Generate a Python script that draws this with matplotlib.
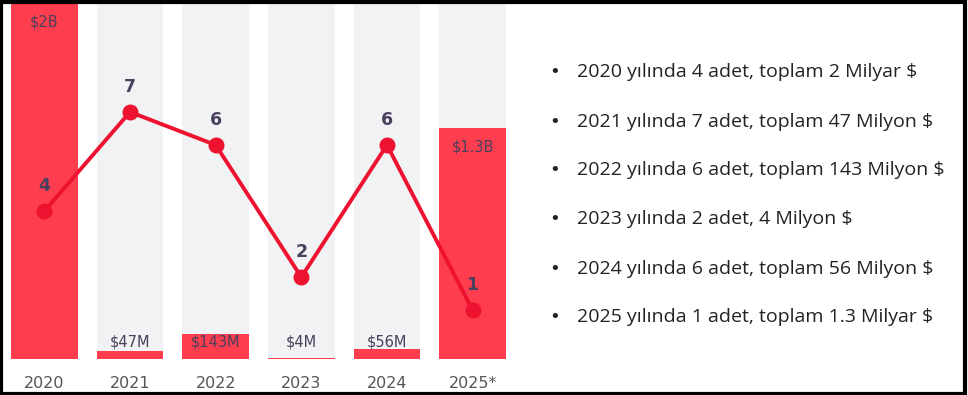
import numpy as np
import matplotlib
matplotlib.use("Agg")
import matplotlib.pyplot as plt
from matplotlib.patches import Rectangle

# data
years = ["2020", "2021", "2022", "2023", "2024", "2025*"]
amount_billion = [2.0, 0.047, 0.143, 0.004, 0.056, 1.3]
amount_labels = ["$2B", "$47M", "$143M", "$4M", "$56M", "$1.3B"]
deal_counts = [4, 7, 6, 2, 6, 1]
notes = [
    "2020 yılında 4 adet, toplam 2 Milyar $",
    "2021 yılında 7 adet, toplam 47 Milyon $",
    "2022 yılında 6 adet, toplam 143 Milyon $",
    "2023 yılında 2 adet, 4 Milyon $",
    "2024 yılında 6 adet, toplam 56 Milyon $",
    "2025 yılında 1 adet, toplam 1.3 Milyar $",
]

W, H = 968, 395
BAR_RED = "#fe3d4f"
TRACK = "#f1f2f4"
LINE_RED = "#ec1230"
LABEL = "#4a3f5c"

fig = plt.figure(figsize=(W / 100, H / 100), dpi=100)
plt.rcParams["font.family"] = ["DejaVu Sans"]

# bar + line chart on the left
ax = fig.add_axes([11 / W, 36 / H, 495 / W, 356 / H])
x = np.arange(len(years))
track_top = max(amount_billion)
ax.bar(x, np.full(len(x), track_top), width=0.78, color=TRACK, zorder=1)
ax.bar(x, amount_billion, width=0.78, color=BAR_RED, zorder=2)
ax.set_xlim(-0.39, len(x) - 1 + 0.39)
ax.set_ylim(0, track_top)

for xi, val, lab in zip(x, amount_billion, amount_labels):
    if val > 0.5:
        ax.annotate(lab, (xi, val), xytext=(0, -14), textcoords="offset points",
                    ha="center", va="center", fontsize=10.5, color=LABEL, zorder=5)
    else:
        ax.annotate(lab, (xi, 0), xytext=(0, 12), textcoords="offset points",
                    ha="center", va="center", fontsize=10.5, color=LABEL, zorder=5)

ax.set_xticks(x)
ax.set_xticklabels(years, fontsize=11.5, color="#555555")
ax.tick_params(axis="x", length=0, pad=12)
ax.set_yticks([])
for s in ax.spines.values():
    s.set_visible(False)

ax2 = ax.twinx()
ax2.plot(x, deal_counts, color=LINE_RED, lw=2.8, marker="o", markersize=10.5,
         zorder=4)
ax2.set_ylim(-0.48, 10.3)
ax2.set_yticks([])
for s in ax2.spines.values():
    s.set_visible(False)
for xi, c in zip(x, deal_counts):
    ax2.annotate(str(c), (xi, c), xytext=(0, 18), textcoords="offset points",
                 ha="center", va="center", fontsize=12.5, fontweight="semibold",
                 color=LABEL)

# bullet notes on the right
rows_y = [72, 122, 170, 219, 269, 317]
for y, txt in zip(rows_y, notes):
    fig.text(555 / W, 1 - y / H, "\u2022", ha="center", va="center",
             fontsize=13, color="#222222")
    fig.text(577 / W, 1 - y / H, txt, ha="left", va="center",
             fontsize=14, color="#222222", family="Open Sans")

# black frame around the picture
fig.patches.append(Rectangle((0.0015, 0.003), 0.995, 0.993, transform=fig.transFigure,
                             fill=False, ec="black", lw=3))

fig.savefig("out.png", dpi=100)
